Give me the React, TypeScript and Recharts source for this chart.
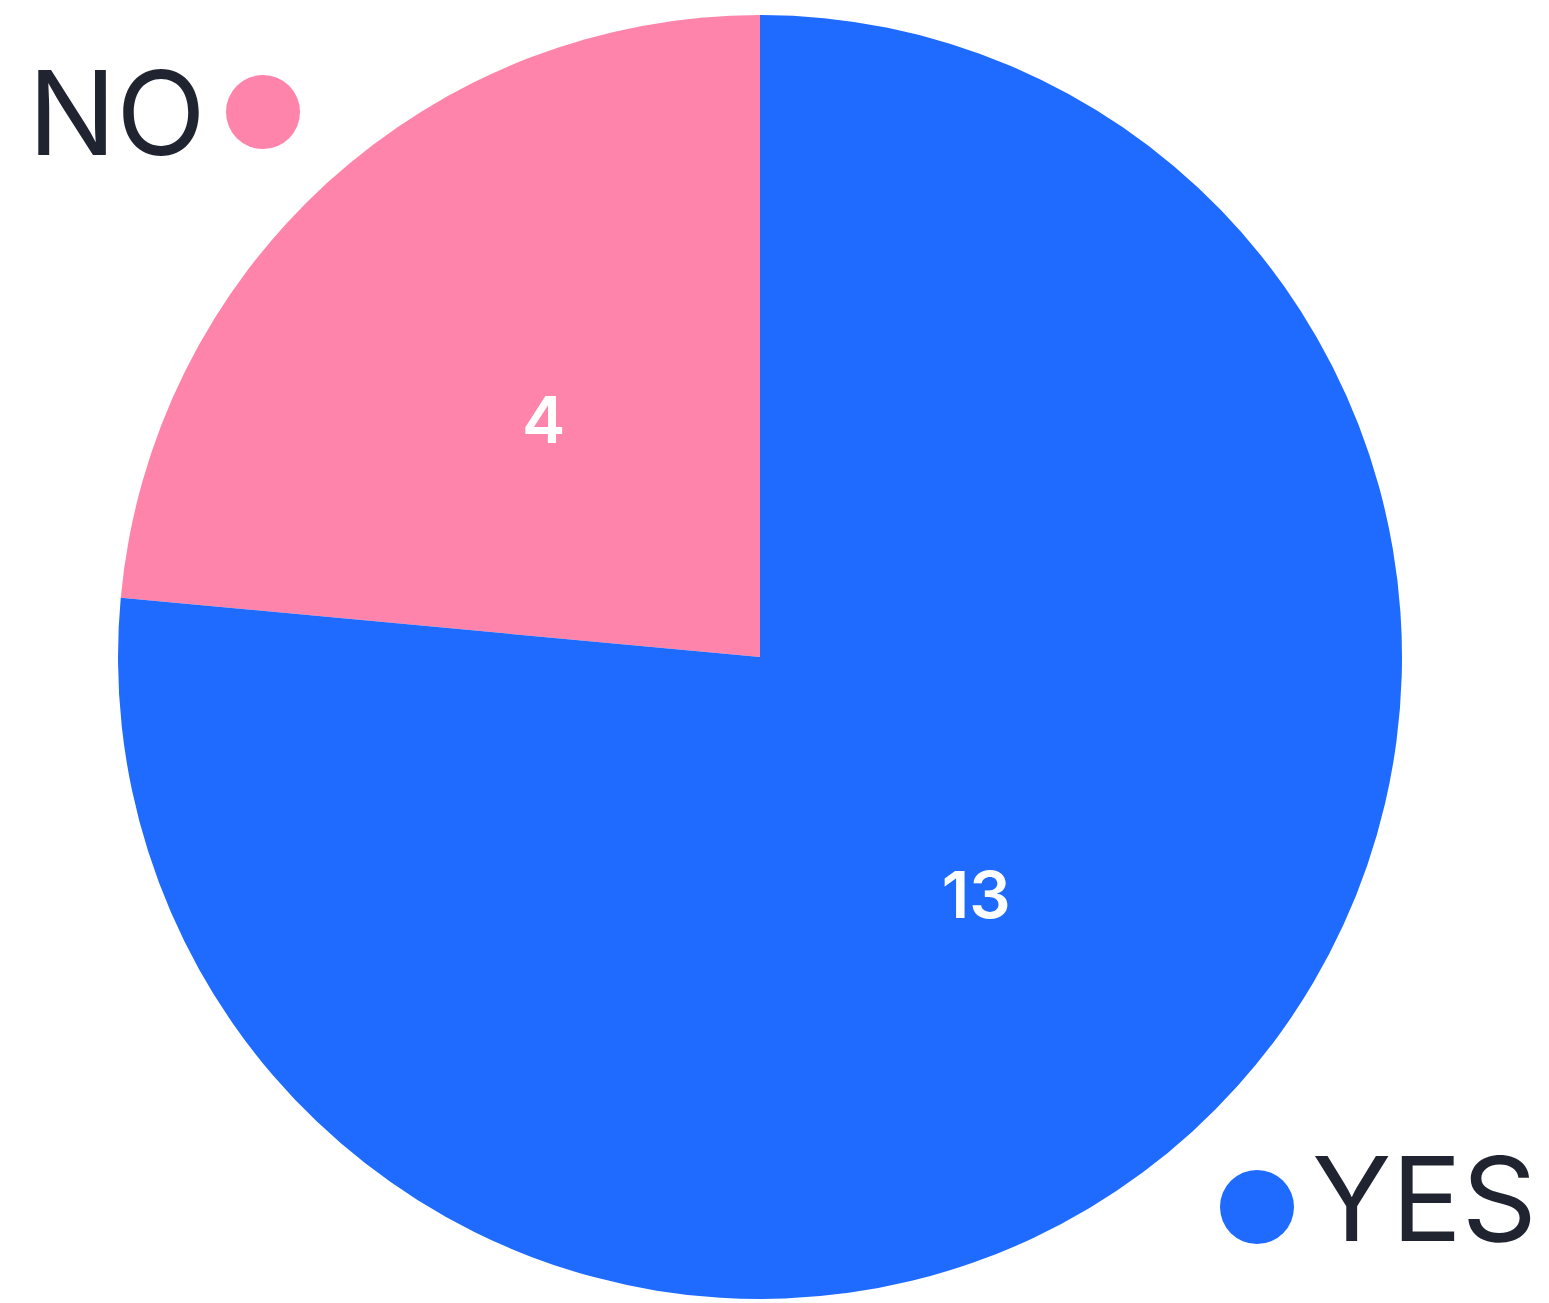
import React from "react";
import { PieChart, Pie, Cell, Legend } from "recharts";

const categories = ["NO", "YES"];
const values = [4, 13];
const colors = ["#FF84AB", "#1F6BFF"];

const data = categories.map((name, i) => ({ name, value: values[i] }));

const RAD = Math.PI / 180;

const renderLabel = (props: any) => {
  const { cx, cy, midAngle, outerRadius, value } = props;
  const r = outerRadius * 0.5;
  const x = cx + r * Math.cos(-midAngle * RAD);
  const y = cy + r * Math.sin(-midAngle * RAD);
  return (
    <text
      x={x}
      y={y}
      fill="#FFFFFF"
      textAnchor="middle"
      dominantBaseline="central"
      fontFamily="Inter, 'Noto Sans', sans-serif"
      fontWeight={600}
      fontSize={65}
    >
      {value}
    </text>
  );
};

const LegendContent = (props: any) => {
  const payload = props.payload || [];
  const no = payload.find((p: any) => p.value === "NO");
  const yes = payload.find((p: any) => p.value === "YES");
  const font = "Inter, 'Noto Sans', sans-serif";
  return (
    <svg width={1549} height={1303} style={{ position: "absolute", left: 0, top: 0 }}>
      {no && (
        <g>
          <text x={28} y={155} fontFamily={font} fontSize={117} fill="#1F2430">
            {no.value}
          </text>
          <circle cx={263} cy={112} r={37} fill={no.color} />
        </g>
      )}
      {yes && (
        <g>
          <circle cx={1257} cy={1207} r={37} fill={yes.color} />
          <text x={1312} y={1241} fontFamily={font} fontSize={117} fill="#1F2430">
            {yes.value}
          </text>
        </g>
      )}
    </svg>
  );
};

export default function App() {
  return (
    <div style={{ position: "absolute", left: 0, top: 0, width: 1549, height: 1303, background: "#fff" }}>
      <PieChart width={1549} height={1303} margin={{ top: 0, right: 0, bottom: 0, left: 0 }}>
        <Pie
          data={data}
          dataKey="value"
          nameKey="name"
          cx={760}
          cy={657}
          outerRadius={642}
          startAngle={90}
          endAngle={450}
          stroke="none"
          isAnimationActive={false}
          labelLine={false}
          label={renderLabel}
        >
          {data.map((d, i) => (
            <Cell key={d.name} fill={colors[i]} />
          ))}
        </Pie>
        <Legend
          content={<LegendContent />}
          wrapperStyle={{ position: "absolute", left: 0, top: 0, width: 1549, height: 1303 }}
        />
      </PieChart>
    </div>
  );
}
